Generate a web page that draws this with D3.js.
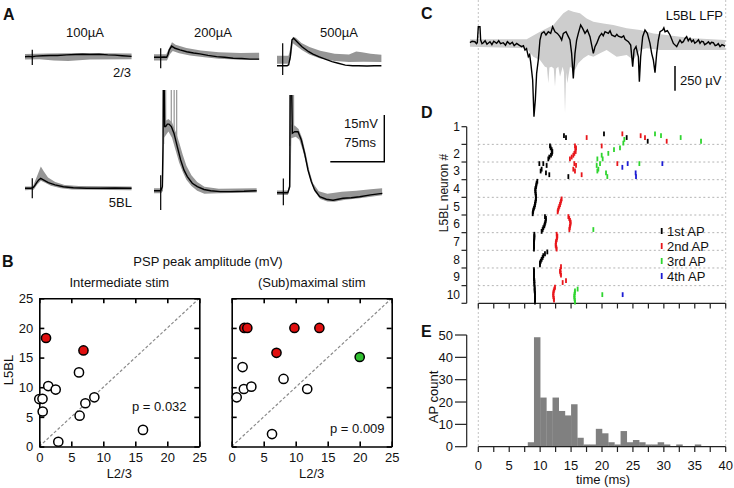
<!DOCTYPE html>
<html><head><meta charset="utf-8">
<script src="https://cdn.jsdelivr.net/npm/d3@7"></script>
<style>body{margin:0;background:#fff}svg{display:block}text{font-family:"Liberation Sans",Arial,sans-serif}</style>
</head><body><svg id="c" width="734" height="488"></svg>
<script>
// ---------------- Panel A data (t in ms, v in mV relative to baseline) ----------------
const l23_100_black=[[0,0],[5,0.1],[10,0],[15,0.2],[25,0.3],[35,0.4],[45,0.4],[58,0.6],[70,0.7],[80,0.8],[90,0.7],[103,0.8],[115,0.6],[125,0.5],[135,0.3],[148,0.1]];
const l23_100_up=[[0,0.9],[30,1.0],[80,1.2],[148,1.0]];
const l23_100_lo=[[0,-0.9],[20,-0.8],[40,-1.2],[60,-1.4],[90,-0.9],[148,-0.8]];
const l23_100_stim=[10.1,2.2,-2.7];
const l5_100_black=[[0,0],[8,0],[11.6,0.3],[14,1],[16.2,1.8],[19,2.7],[21.8,3.2],[25.5,2.7],[32.4,1.8],[41.7,1.1],[53.2,0.5],[67.1,0.2],[85.6,0],[104,0],[125,0.1],[148,0]];
const l5_100_up=[[0,0.6],[11,0.6],[16,3.5],[22,7.0],[26,5.5],[32,3.5],[42,2.0],[55,1.1],[75,0.7],[148,0.6]];
const l5_100_lo=[[0,-0.6],[12,-0.5],[17,1.2],[22,2.4],[28,1.8],[36,0.8],[50,0],[65,-0.4],[148,-0.6]];
const l5_100_stim=[10.1,3.2,-3.2];
const l23_200_black=[[0,0],[9,0],[14,0.1],[17.6,0],[19.5,1],[21.3,2.4],[24.5,3.6],[29.2,2.9],[36.1,2.4],[45.4,1.8],[55,1.4],[63.9,1.1],[75,0.6],[87,0.2],[98,0],[110,-0.3],[122,-0.4],[133,-0.6],[146,-0.6]];
const l23_200_up=[[0,1.0],[17,1.0],[22,3.5],[25,4.8],[30,4.0],[45,3.0],[65,2.2],[90,1.6],[120,1.4],[146,1.5]];
const l23_200_lo=[[0,-1.0],[18,-1.0],[22,1.0],[26,2.0],[35,1.3],[50,0.6],[70,0],[90,-0.5],[120,-0.8],[146,-0.8]];
const l23_200_stim=[9.3,2.9,-3.5];
const l5_200_black=[[0,0],[9.3,0],[11.6,1.3],[12.5,15],[13,40],[13.9,40],[14.8,20.6],[16.2,20.6],[18.5,21.4],[20.8,21.4],[24.1,20.6],[27.8,18.4],[32.4,14.1],[37,9.9],[41.7,6.6],[46.3,4.5],[53.2,2.4],[60.2,1.3],[69.4,0.4],[78.7,0],[92,-0.3],[106.5,-0.3],[125,-0.2],[142.6,0]];
const l5_200_up=[[0,0.8],[10,0.8],[12,3],[13,22],[20,23],[25,22],[30,19],[35,15.5],[40,11.5],[45,8],[52,5],[60,2.8],[70,1.3],[90,0.6],[142.6,0.8]];
const l5_200_lo=[[0,-0.8],[10,-0.8],[12.5,0],[14,17],[20,19],[25,17],[30,13],[35,9],[40,6],[45,3.5],[52,1.5],[60,0],[70,-1],[90,-0.8],[142.6,-0.6]];
const l5_200_spk=[[13.4,15],[16.2,20],[24,20],[28,17],[31.5,14]];
const l5_200_stim=[9.3,5,-6.2];
const l23_500_black=[[0,0],[7.9,0],[14,0],[16.2,0.3],[18.5,2.9],[20.8,8.3],[23.1,8.8],[27.8,7.7],[34.7,6.1],[44,4.5],[50,3.7],[57.9,2.9],[66,2.2],[76.4,1.3],[85,0.8],[94.9,0.2],[105,0],[113,0],[125,-0.1],[135,0],[145,0]];
const l23_500_up=[[0,3.2],[16,3.2],[19,6],[22,9.3],[26,9.0],[34,7.3],[45,6.0],[60,4.8],[80,3.8],[100,3.6],[110,4.6],[118,4.3],[130,3.8],[145,3.5]];
const l23_500_lo=[[0,0.6],[16,0.6],[19,2],[22,7.2],[28,6.2],[35,5.0],[45,3.6],[60,2.3],[80,1.5],[100,1.2],[120,1.3],[145,1.2]];
const l23_500_stim=[7.9,7.2,-3.0];
const l5_500_black=[[0,0],[8.8,0],[15,0],[17.6,1.9],[18.5,40],[19.9,40],[21.3,19.1],[24.5,19.6],[29.2,19.6],[33.8,16.9],[38.4,12.6],[43,7.3],[47.7,3.5],[52.3,0.9],[59.3,-1.3],[68.5,-2.1],[77.8,-2.4],[91.7,-1.8],[103,-1.6],[114.8,-1.3],[130,-0.7],[146.3,-0.2]];
const l5_500_up=[[0,0.7],[15,0.7],[17.5,3],[19,22],[25,21.5],[30,20.5],[35,17.5],[40,12.5],[45,7],[50,3],[58,0.5],[70,-0.3],[90,0.3],[110,0.6],[130,1.1],[146,1.4]];
const l5_500_lo=[[0,-0.7],[15,-0.7],[18.5,2],[20,17.5],[26,18],[31,17],[36,13.5],[41,9],[46,4.5],[52,0.5],[60,-2],[70,-2.8],[80,-2.9],[95,-2.3],[115,-1.8],[146,-0.8]];
const l5_500_spk=[[18,15],[19.5,18],[21.5,19],[23,19]];
const l5_500_stim=[8.8,4.6,-4.0];
const stimLabels=["100\u00b5A","200\u00b5A","500\u00b5A"];

// ---------------- Panel B data ----------------
const bTicks=[0,5,10,15,20,25];
const interOpen=[[6.2,12.5],[1.4,10.2],[2.56,9.6],[0,8.0],[0.5,8.05],[0.53,5.9],[8.6,8.3],[7.2,7.3],[6.3,5.2],[16.2,2.8],[2.97,0.8]];
const interRed=[[1.05,18.3],[6.9,16.2]];
const maxOpen=[[1.7,13.4],[8.1,11.4],[1.9,9.7],[3.07,10.1],[0.78,8.3],[11.8,9.7],[6.3,2.1]];
const maxRed=[[1.97,20],[2.44,20],[9.8,20],[13.7,20],[7.0,15.8]];
const maxGreen=[[20,15.1]];

// ---------------- Panel C data (t ms, µV) ----------------
const lfpBlack=[[-1.35,0],[-1.0,15],[-0.54,10],[-0.3,-10],[-0.16,0],[0,162],[0.27,162],[0.38,27],[0.6,-10],[0.81,0],[1.1,20],[1.4,-15],[1.89,10],[2.2,-20],[2.5,15],[2.96,-7],[3.3,20],[3.6,-10],[4.04,0],[4.4,-25],[4.7,10],[5.12,-13],[5.5,5],[5.8,-30],[6.2,-7],[6.6,-25],[7.0,-40],[7.3,-30],[7.55,-74],[7.8,-60],[8.09,-142],[8.3,-120],[8.46,-192],[8.79,-377],[9.0,-748],[9.22,-580],[9.43,-310],[9.7,-175],[9.97,27],[10.24,94],[10.62,111],[10.94,78],[11.32,111],[11.7,94],[12.02,162],[12.4,111],[12.78,94],[13.2,61],[13.48,27],[13.75,94],[14.18,111],[14.56,61],[14.82,27],[15.09,-108],[15.36,-361],[15.63,-108],[15.9,27],[16.17,94],[16.55,179],[16.87,145],[17.25,94],[17.63,128],[18.06,61],[18.33,-24],[18.6,-108],[18.87,-40],[19.14,-7],[19.57,61],[19.95,94],[20.2,70],[20.49,111],[21.02,94],[21.3,120],[21.56,78],[22.1,61],[22.4,85],[22.64,67],[23.18,54],[23.5,70],[23.72,34],[24.26,10],[24.64,-24],[24.96,-243],[25.18,-74],[25.5,-40],[25.88,-142],[26.04,-394],[26.25,-142],[26.58,61],[26.95,128],[27.33,94],[27.76,-7],[28.03,-108],[28.3,-175],[28.57,-303],[28.84,-108],[29.11,27],[29.38,111],[29.81,128],[30.0,150],[30.19,111],[30.57,121],[31.0,78],[31.54,-7],[32.08,-40],[32.3,-10],[32.61,27],[32.9,0],[33.15,10],[33.4,40],[33.69,61],[33.95,20],[34.23,44],[34.5,10],[34.77,27],[35.0,-5],[35.31,10],[35.6,30],[35.85,-7],[36.1,15],[36.39,10],[36.6,-20],[36.93,-7],[37.2,10],[37.47,-13],[37.7,5],[38.0,0],[38.3,-30],[38.54,-24],[38.8,-10],[39.08,-40],[39.4,-20],[39.9,-34]];
const lfpGreyUp=[[-1.35,34],[7.82,34],[9.97,111],[12.13,179],[13.75,297],[14.56,330],[15.36,313],[16.44,297],[17.52,246],[18.6,212],[20.22,195],[21.83,179],[23.99,145],[26.15,128],[28.3,94],[30.46,78],[32.61,61],[34.77,44],[39.9,27]];
const lfpGreyLo=[[-1.35,-40],[7.82,-57],[8.89,-142],[9.97,-175],[10.78,-243],[11.1,-250],[11.32,-411],[11.5,-250],[11.86,-243],[12.2,-260],[12.4,-445],[12.6,-260],[12.94,-243],[13.21,-344],[13.64,-243],[13.85,-300],[14.02,-714],[14.2,-300],[14.39,-411],[14.82,-243],[15.63,-276],[16.17,-209],[16.98,-158],[17.79,-125],[18.6,-142],[19.68,-108],[20.75,-74],[22.37,-142],[23.99,-125],[25.07,-175],[26.15,-74],[27.22,-57],[29.38,-74],[32.08,-74],[34.77,-74],[39.9,-74]];

// ---------------- Panel D data: [neuron, trial, time ms] ----------------
const neurons=[1,2,3,4,5,6,7,8,9,10];
const ap1=[[1,4,13.85],[1,5,14.18],[1,3,20.32],[1,5,23.99],[1,7,27.39],
[2,0,11.59],[2,1,11.7],[2,2,11.86],[2,3,11.97],[2,4,11.91],[2,5,11.75],[2,6,11.48],[2,7,11.32],
[3,0,9.87],[3,0,10.51],[3,1,11.05],[3,3,10.24],[3,4,10.08],[3,5,10.94],[3,6,11.48],[3,7,14.56],
[4,0,9.54],[4,1,9.43],[4,2,9.38],[4,3,9.33],[4,4,9.22],[4,5,9.22],[4,6,9.25],[4,7,9.27],[4,8,9.33],
[5,0,9.33],[5,1,9.27],[5,2,9.22],[5,3,9.16],[5,4,9.1],[5,5,9.0],[5,6,8.89],[5,7,8.84],[5,8,8.79],
[6,0,10.78],[6,1,10.94],[6,2,10.9],[6,3,10.84],[6,4,10.75],[6,5,10.67],[6,6,10.51],[6,7,10.4],[6,8,10.24],
[7,0,9.06],[7,1,9.06],[7,2,9.06],[7,3,9.03],[7,4,9.0],[7,5,9.0],[7,6,9.0],[7,7,9.0],[7,8,9.0],
[8,0,11.16],[8,1,10.78],[8,2,10.51],[8,3,10.4],[8,4,10.24],[8,5,10.1],[8,6,9.97],[8,7,9.97],
[9,0,9.0],[9,1,9.0],[9,2,9.0],[9,3,9.0],[9,4,9.0],[9,5,9.0],[9,6,9.06],[9,7,9.06],[9,8,9.06],
[10,0,9.11],[10,1,9.11],[10,2,9.11],[10,3,9.16],[10,4,9.16],[10,5,9.16],[10,6,9.16],[10,7,9.16],[10,8,9.16]];
const ap2=[[1,5,17.52],[1,3,23.29],[1,4,26.25],[1,5,26.95],[1,7,30.46],
[2,0,15.63],[2,1,15.8],[2,2,15.69],[2,3,15.74],[2,4,15.53],[2,5,15.36],[2,6,15.1],[2,7,14.82],[2,0,19.95],
[3,0,15.53],[3,1,15.8],[3,3,15.36],[3,4,15.63],[3,6,16.71],[3,0,22.48],
[5,0,13.48],[5,1,13.37],[5,2,13.3],[5,3,13.21],[5,4,13.1],[5,5,12.99],[5,6,12.9],[5,7,12.83],
[6,0,14.56],[6,1,14.7],[6,2,14.82],[6,3,14.93],[6,4,14.9],[6,5,14.82],[6,6,14.78],[6,7,14.72],
[7,0,12.67],[7,1,12.78],[7,2,12.72],[7,3,12.67],[7,4,12.56],[7,5,12.53],[7,6,12.51],[7,7,12.6],[7,8,12.67],
[8,8,13.37],
[9,0,13.3],[9,1,13.21],[9,2,13.3],[9,3,13.37],[9,6,14.18],[9,7,13.64],
[10,0,12.4],[10,1,12.29],[10,2,12.2],[10,3,12.13],[10,4,12.13],[10,5,12.13],[10,6,12.2],[10,7,12.24]];
const ap3=[[1,3,28.57],[1,4,29.54],[1,5,32.72],[1,7,36.01],[1,6,23.61],[1,8,23.45],
[2,1,22.91],[2,2,21.94],[2,4,21.02],[2,5,19.95],[2,7,19.25],[2,7,20.11],
[3,0,19.68],[3,1,19.14],[3,3,19.41],[3,4,19.25],[3,5,20.65],[3,7,20.86],[3,0,26.04],
[6,7,18.6],
[10,1,16.06],[10,2,15.63],[10,3,15.6],[10,4,15.55],[10,5,15.53],[10,6,15.55],[10,7,15.6],[10,8,15.63],[10,4,20.05]];
const ap4=[[3,2,23.29],[3,0,24.15],[3,5,25.44],[3,7,25.5],[3,0,29.76],[10,4,23.34]];
const apNames=["1st AP","2nd AP","3rd AP","4th AP"];
const apColors=["#000000","#e8161b","#2fd52f","#1c1cd4"];

// ---------------- Panel E data ----------------
const histBinStart=[8,9,10,11,12,13,14,15,16,17,18,19,20,21,22,23,24,25,26,27,28,29,30,31,32,33,34,35];
const histCounts=[2,49,22,16,22,16,14,19,4,1,1,8,6,2,1,7,2,3,2,1,1,2,1,0,1,0,0,1];
const tTicks=[0,5,10,15,20,25,30,35,40];
const tMinor=d3.range(0,40.01,2.5);
const countTicks=[0,10,20,30,40,50];

// =====================================================================
const svg=d3.select('#c');
function txt(x,y,s,o={}){
  const t=svg.append('text').attr('x',x).attr('y',y).text(s)
    .attr('font-size',o.size||13).attr('text-anchor',o.anchor||'start')
    .attr('font-weight',o.bold?'bold':'normal').attr('fill','#111');
  if(o.rot) t.attr('transform',`rotate(-90,${x},${y})`);
  return t;
}
txt(3,20,'A',{size:16,bold:true});
txt(2,267,'B',{size:16,bold:true});
txt(421,19,'C',{size:16,bold:true});
txt(421,118,'D',{size:16,bold:true});
txt(421,337,'E',{size:16,bold:true});

// ---------------- Panel A ----------------
const aSpec=[
 {b:l23_100_black,u:l23_100_up,l:l23_100_lo,s:l23_100_stim,k:[],x0:25,base:56.7,top:30},
 {b:l5_100_black,u:l5_100_up,l:l5_100_lo,s:l5_100_stim,k:[],x0:25,base:188.3,top:140},
 {b:l23_200_black,u:l23_200_up,l:l23_200_lo,s:l23_200_stim,k:[],x0:154,base:57.3,top:30},
 {b:l5_200_black,u:l5_200_up,l:l5_200_lo,s:l5_200_stim,k:l5_200_spk,x0:154,base:190.7,top:90},
 {b:l23_500_black,u:l23_500_up,l:l23_500_lo,s:l23_500_stim,k:[],x0:277,base:65.7,top:30},
 {b:l5_500_black,u:l5_500_up,l:l5_500_lo,s:l5_500_stim,k:l5_500_spk,x0:277,base:192.7,top:95}
];
const msPx=0.72;
aSpec.forEach((p,i)=>{
  const x=d3.scaleLinear().domain([0,148]).range([p.x0,p.x0+148*msPx]);
  const y=d3.scaleLinear().domain([0,15]).range([p.base,p.base-46.7]);
  svg.append('clipPath').attr('id','ca'+i).append('rect')
    .attr('x',p.x0-10).attr('y',p.top).attr('width',130).attr('height',150);
  const g=svg.append('g').attr('clip-path',`url(#ca${i})`);
  const ln=d3.line().x(d=>x(d[0])).y(d=>y(d[1]));
  g.append('path').attr('d',ln(p.u.concat(p.l.slice().reverse()))+'Z').attr('fill','#969696');
  p.k.forEach(s=>g.append('line').attr('x1',x(s[0])).attr('x2',x(s[0]))
     .attr('y1',y(s[1])).attr('y2',y(45)).attr('stroke','#969696').attr('stroke-width',1.2));
  g.append('path').attr('d',ln(p.b)).attr('fill','none').attr('stroke','#000').attr('stroke-width',1.4);
  g.append('line').attr('x1',x(p.s[0])).attr('x2',x(p.s[0])).attr('y1',y(p.s[1])).attr('y2',y(p.s[2]))
    .attr('stroke','#000').attr('stroke-width',1.2);
});
[85,213,339].forEach((cx,i)=>txt(cx,36.5,stimLabels[i],{anchor:'middle'}));
txt(131,77,'2/3',{anchor:'end'});
txt(132,207,'5BL',{anchor:'end'});
const sbX=d3.scaleLinear().domain([0,148]).range([0,148*msPx]);
const sbY=d3.scaleLinear().domain([0,15]).range([0,46.7]);
svg.append('path').attr('d',`M${384.3-sbX(75)},161.7H384.3V${161.7-sbY(15)}`)
  .attr('fill','none').attr('stroke','#000').attr('stroke-width',1.4);
txt(378,128,'15mV',{anchor:'end'});
txt(376,146.5,'75ms',{anchor:'end'});

// ---------------- Panel B ----------------
txt(208,266,'PSP peak amplitude (mV)',{anchor:'middle'});
function scatter(x0,title,open,red,green,pTxt,px,py,showY){
  const x=d3.scaleLinear().domain([0,25]).range([x0,x0+160]);
  const y=d3.scaleLinear().domain([0,25]).range([446.5,298.3]);
  const g=svg.append('g');
  g.append('line').attr('x1',x(0)).attr('y1',y(0)).attr('x2',x(25)).attr('y2',y(25))
    .attr('stroke','#8a8a8a').attr('stroke-width',1.2).attr('stroke-dasharray','3,2');
  const ax=(gen,tr)=>{const a=g.append('g').attr('transform',tr).call(gen);
    a.selectAll('path,line').attr('stroke','#000').attr('stroke-width',1.6);
    a.selectAll('text').attr('font-size',13).attr('font-family','"Liberation Sans",Arial,sans-serif').attr('fill','#111');return a;};
  ax(d3.axisBottom(x).tickValues(bTicks).tickSizeInner(-5).tickSizeOuter(0).tickPadding(6),`translate(0,${y(0)})`);
  ax(d3.axisTop(x).tickValues(bTicks).tickSizeInner(-5).tickSizeOuter(0).tickFormat(''),`translate(0,${y(25)})`);
  const la=d3.axisLeft(y).tickValues(bTicks).tickSizeInner(-5).tickSizeOuter(0).tickPadding(6);
  if(!showY) la.tickFormat('');
  ax(la,`translate(${x(0)},0)`);
  ax(d3.axisRight(y).tickValues(bTicks).tickSizeInner(-5).tickSizeOuter(0).tickFormat(''),`translate(${x(25)},0)`);
  const dot=(arr,fill)=>g.selectAll(null).data(arr).enter().append('circle')
    .attr('cx',d=>x(d[0])).attr('cy',d=>y(d[1])).attr('r',4.6)
    .attr('fill',fill).attr('stroke','#000').attr('stroke-width',1.5);
  dot(open,'#fff'); dot(red,'#e00f0f'); dot(green,'#30c030');
  txt(x(12.5),287,title,{anchor:'middle'});
  txt(x(12.5),478,'L2/3',{anchor:'middle'});
  txt(px,py,pTxt);
}
scatter(39.3,'Intermediate stim',interOpen,interRed,[],'p = 0.032',132,411,true);
scatter(231.7,'(Sub)maximal stim',maxOpen,maxRed,maxGreen,'p = 0.009',330,433,false);
txt(12.5,370,'L5BL',{anchor:'middle',rot:true});

// ---------------- shared time scale C/D/E ----------------
const tX=d3.scaleLinear().domain([0,40]).range([478.3,725.7]);
[0,40].forEach(t=>svg.append('line').attr('x1',tX(t)).attr('x2',tX(t)).attr('y1',0).attr('y2',446.7)
  .attr('stroke','#c4c4c4').attr('stroke-width',1).attr('stroke-dasharray','2,2'));

// ---------------- Panel C ----------------
const cY=d3.scaleLinear().domain([0,250]).range([42.7,42.7-24.7]);
const cl=d3.line().x(d=>tX(d[0])).y(d=>cY(d[1]));
svg.append('path').attr('d',cl(lfpGreyUp.concat(lfpGreyLo.slice().reverse()))+'Z').attr('fill','#cdcdcd');
svg.append('path').attr('d',cl(lfpBlack)).attr('fill','none').attr('stroke','#000').attr('stroke-width',1.4);
svg.append('line').attr('x1',675).attr('x2',675).attr('y1',90.7).attr('y2',90.7-(cY(0)-cY(250)))
  .attr('stroke','#000').attr('stroke-width',1.5);
txt(680,85,'250 \u00b5V');
txt(723,20,'L5BL LFP',{anchor:'end'});

// ---------------- Panel D ----------------
const nY=d3.scaleBand().domain(neurons).range([126.7,303.3]);
const rowH=nY.bandwidth();
neurons.slice(1).forEach(n=>svg.append('line').attr('x1',tX(0)).attr('x2',tX(40))
  .attr('y1',nY(n)).attr('y2',nY(n)).attr('stroke','#b4b4b4').attr('stroke-dasharray','2,2.5'));
svg.append('line').attr('x1',466.7).attr('x2',466.7).attr('y1',126.7).attr('y2',303.3).attr('stroke','#222').attr('stroke-width',1.2);
neurons.concat([11]).forEach(n=>{const yy=126.7+(n-1)*rowH;
  svg.append('line').attr('x1',461.5).attr('x2',466.7).attr('y1',yy).attr('y2',yy).attr('stroke','#222').attr('stroke-width',1.2);});
neurons.forEach(n=>txt(460,(n===1?nY(n)+4.5:nY(n)+rowH/2+4.5),String(n),{anchor:'end',size:12}));
txt(448,193,'L5BL neuron #',{anchor:'middle',rot:true,size:12});
svg.append('line').attr('x1',tX(0)).attr('x2',tX(40)).attr('y1',303.3).attr('y2',303.3).attr('stroke','#222').attr('stroke-width',1.2);
tMinor.forEach(t=>svg.append('line').attr('x1',tX(t)).attr('x2',tX(t)).attr('y1',303.3).attr('y2',308.5).attr('stroke','#222').attr('stroke-width',1.2));
const trialY=(n,k)=>nY(n)+1.6+k*1.85;
[ap1,ap2,ap3,ap4].forEach((arr,i)=>{
  svg.append('g').selectAll('line').data(arr).enter().append('line')
    .attr('x1',d=>tX(d[2])).attr('x2',d=>tX(d[2]))
    .attr('y1',d=>trialY(d[0],d[1])-2.4).attr('y2',d=>trialY(d[0],d[1])+2.4)
    .attr('stroke',apColors[i]).attr('stroke-width',1.8);
});
apNames.forEach((nm,i)=>{const ly=231+i*15;
  svg.append('line').attr('x1',661.7).attr('x2',661.7).attr('y1',ly-3).attr('y2',ly+3).attr('stroke',apColors[i]).attr('stroke-width',1.8);
  txt(667,ly+4.5,nm);
});

// ---------------- Panel E ----------------
const eY=d3.scaleLinear().domain([0,50]).range([446.7,335]);
svg.append('g').selectAll('rect').data(histBinStart).enter().append('rect')
  .attr('x',d=>tX(d)).attr('width',tX(1)-tX(0)+0.3)
  .attr('y',(d,i)=>eY(histCounts[i])).attr('height',(d,i)=>eY(0)-eY(histCounts[i]))
  .attr('fill','#808080');
svg.append('line').attr('x1',466.7).attr('x2',466.7).attr('y1',335).attr('y2',446.7).attr('stroke','#222').attr('stroke-width',1.2);
countTicks.forEach(c=>{svg.append('line').attr('x1',455).attr('x2',466.7).attr('y1',eY(c)).attr('y2',eY(c)).attr('stroke','#222').attr('stroke-width',1.2);
  txt(453,eY(c)+4.5,String(c),{anchor:'end'});});
svg.append('line').attr('x1',tX(0)).attr('x2',tX(40)).attr('y1',446.7).attr('y2',446.7).attr('stroke','#222').attr('stroke-width',1.2);
tMinor.forEach(t=>svg.append('line').attr('x1',tX(t)).attr('x2',tX(t)).attr('y1',446.7).attr('y2',452).attr('stroke','#222').attr('stroke-width',1.2));
tTicks.forEach(t=>txt(tX(t),470,String(t),{anchor:'middle'}));
txt(603,484,'time (ms)',{anchor:'middle'});
txt(438,397,'AP count',{anchor:'middle',rot:true});
</script></body></html>
